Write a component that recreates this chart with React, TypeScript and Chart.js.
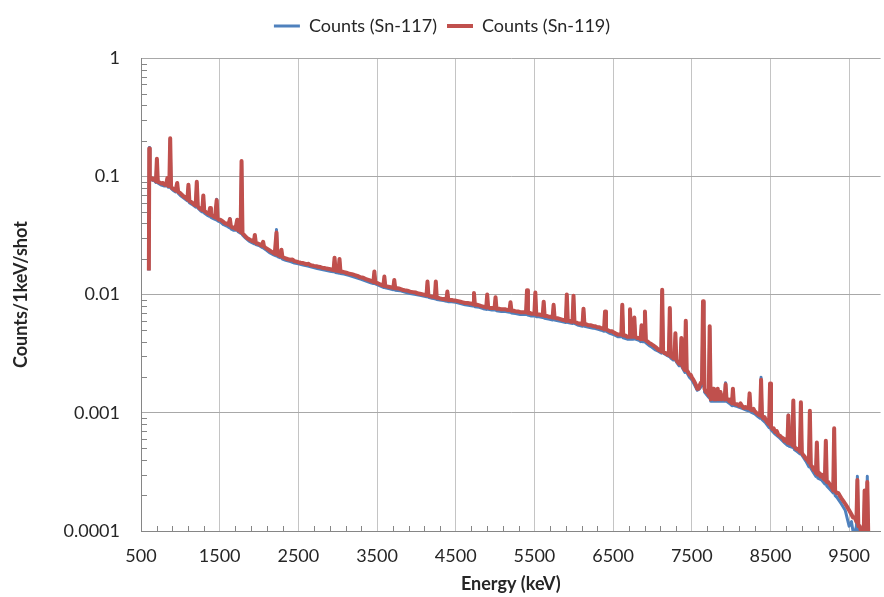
import React, { useEffect, useRef } from "react";
import { Chart, registerables } from "chart.js";

Chart.register(...registerables);

// ---- Data ----
const seriesLabels = ["Counts (Sn-117)", "Counts (Sn-119)"];
const xTickValues = [500, 1500, 2500, 3500, 4500, 5500, 6500, 7500, 8500, 9500];
const yTickValues = [0.0001, 0.001, 0.01, 0.1, 1];
const yTickLabels = ["0.0001", "0.001", "0.01", "0.1", "1"];
const xAxisTitle = "Energy (keV)";
const yAxisTitle = "Counts/1keV/shot";

// [energy keV, counts] — Sn-119 (red)
const sn119: [number, number][] = [
  [600,0.016],[605,0.172],[612,0.099],[630,0.097],[650,0.094],[670,0.096],[690,0.091],[702,0.141],[714,0.090],[735,0.089],
  [760,0.087],[780,0.088],[800,0.085],[822,0.086],[835,0.097],[847,0.083],[860,0.084],[871,0.21],[882,0.082],[900,0.079],
  [920,0.078],[940,0.076],[960,0.088],[972,0.074],[990,0.073],[1010,0.071],[1030,0.069],[1050,0.067],[1070,0.066],[1090,0.064],
  [1103,0.085],[1115,0.062],[1135,0.061],[1150,0.060],[1172,0.058],[1195,0.057],[1209,0.090],[1222,0.056],[1240,0.054],[1260,0.053],
  [1280,0.052],[1292,0.069],[1304,0.051],[1322,0.050],[1340,0.049],[1365,0.048],[1377,0.054],[1389,0.047],[1405,0.047],[1420,0.046],
  [1440,0.045],[1462,0.063],[1474,0.044],[1492,0.043],[1510,0.043],[1530,0.042],[1550,0.041],[1570,0.040],[1590,0.040],[1610,0.039],
  [1630,0.0435],[1642,0.038],[1660,0.037],[1680,0.037],[1700,0.036],[1723,0.043],[1735,0.035],[1752,0.035],[1766,0.034],[1778,0.135],
  [1790,0.033],[1810,0.032],[1830,0.031],[1850,0.030],[1870,0.0295],[1890,0.029],[1910,0.0285],[1935,0.028],[1947,0.032],[1959,0.0275],
  [1975,0.027],[1990,0.027],[2010,0.0265],[2030,0.026],[2052,0.028],[2064,0.0255],[2080,0.025],[2100,0.0245],[2120,0.024],[2140,0.0235],
  [2160,0.023],[2180,0.0226],[2200,0.0222],[2222,0.0335],[2234,0.0218],[2255,0.0214],[2273,0.0212],[2285,0.024],[2297,0.0208],[2320,0.0205],
  [2340,0.0202],[2370,0.0199],[2400,0.0197],[2425,0.0198],[2450,0.0192],[2480,0.0190],[2500,0.0188],[2530,0.0186],[2560,0.0185],[2600,0.0181],
  [2630,0.0182],[2650,0.0178],[2680,0.0176],[2700,0.0175],[2730,0.0174],[2750,0.0172],[2780,0.0171],[2800,0.0169],[2830,0.0168],[2860,0.0166],
  [2890,0.0165],[2920,0.0163],[2948,0.0161],[2960,0.0205],[2972,0.0160],[2995,0.0159],[3011,0.0158],[3023,0.0200],[3035,0.0157],[3060,0.0156],
  [3080,0.0155],[3110,0.0153],[3150,0.0150],[3180,0.0149],[3220,0.0146],[3250,0.0144],[3290,0.0140],[3325,0.0139],[3360,0.0135],[3390,0.0133],
  [3420,0.0131],[3454,0.0128],[3466,0.0157],[3478,0.0127],[3505,0.0125],[3530,0.0123],[3555,0.0121],[3581,0.0119],[3593,0.0142],[3605,0.0118],
  [3630,0.0117],[3660,0.0116],[3685,0.0115],[3707,0.0114],[3719,0.0133],[3731,0.0113],[3760,0.0113],[3790,0.0112],[3820,0.0110],[3850,0.0109],
  [3885,0.0108],[3920,0.0106],[3955,0.0105],[3994,0.0104],[4025,0.0102],[4060,0.0101],[4095,0.0100],[4129,0.0099],[4141,0.0129],[4153,0.0098],
  [4175,0.0097],[4200,0.0096],[4220,0.0096],[4235,0.0095],[4247,0.0129],[4259,0.0094],[4280,0.0094],[4300,0.0093],[4325,0.0092],[4345,0.0092],
  [4365,0.0091],[4382,0.0091],[4394,0.0106],[4406,0.0090],[4430,0.0090],[4450,0.0090],[4475,0.0089],[4500,0.0089],[4530,0.0088],[4560,0.0087],
  [4590,0.0086],[4620,0.0085],[4650,0.0085],[4680,0.0084],[4700,0.0084],[4720,0.0083],[4732,0.0103],[4744,0.0082],[4770,0.0082],[4800,0.0081],
  [4825,0.0080],[4850,0.0079],[4870,0.0079],[4888,0.0078],[4900,0.0100],[4912,0.0078],[4935,0.0077],[4960,0.0077],[4980,0.0077],[4994,0.0077],
  [5006,0.0095],[5018,0.0076],[5050,0.0076],[5080,0.0075],[5105,0.0075],[5133,0.0075],[5160,0.0074],[5184,0.0074],[5196,0.0086],[5208,0.0073],
  [5235,0.0073],[5260,0.0072],[5290,0.0072],[5320,0.0071],[5350,0.0071],[5375,0.0071],[5394,0.0071],[5406,0.0109],[5418,0.0070],[5440,0.0070],
  [5460,0.0069],[5480,0.0069],[5500,0.0069],[5512,0.0104],[5524,0.0068],[5545,0.0068],[5560,0.0068],[5585,0.0067],[5606,0.0067],[5618,0.0087],
  [5630,0.0066],[5655,0.0066],[5680,0.0065],[5705,0.0065],[5732,0.0064],[5744,0.0082],[5756,0.0064],[5780,0.0063],[5800,0.0063],[5830,0.0062],
  [5860,0.0061],[5880,0.0061],[5900,0.0060],[5912,0.0100],[5924,0.0060],[5945,0.0060],[5965,0.0059],[5985,0.0059],[5997,0.0098],[6009,0.0059],
  [6035,0.0058],[6060,0.0057],[6085,0.0057],[6112,0.0056],[6124,0.0076],[6136,0.0056],[6160,0.0056],[6190,0.0055],[6220,0.0055],[6250,0.0054],
  [6275,0.0054],[6300,0.0053],[6325,0.0053],[6350,0.0052],[6370,0.0052],[6386,0.0051],[6398,0.0072],[6410,0.0051],[6435,0.0050],[6460,0.0049],
  [6485,0.0049],[6504,0.0048],[6530,0.0047],[6560,0.0046],[6585,0.0046],[6605,0.0046],[6617,0.0082],[6629,0.0045],[6655,0.0045],[6680,0.0044],
  [6703,0.0044],[6715,0.0075],[6727,0.0044],[6745,0.0044],[6758,0.0044],[6770,0.0064],[6782,0.0044],[6805,0.0043],[6830,0.0043],[6850,0.0042],
  [6862,0.0055],[6874,0.0042],[6893,0.0042],[6905,0.0072],[6917,0.0041],[6940,0.0040],[6960,0.0039],[6990,0.0038],[7015,0.0037],[7040,0.0036],
  [7060,0.0035],[7080,0.0034],[7100,0.0034],[7112,0.0033],[7124,0.0110],[7136,0.0033],[7155,0.0032],[7170,0.0032],[7190,0.0031],[7209,0.0031],
  [7221,0.0077],[7233,0.0030],[7250,0.0030],[7265,0.0029],[7280,0.0029],[7292,0.0047],[7304,0.0028],[7320,0.0027],[7340,0.0026],[7356,0.0026],
  [7368,0.0043],[7380,0.0025],[7395,0.0024],[7412,0.0023],[7424,0.0060],[7436,0.0023],[7455,0.0022],[7470,0.0021],[7485,0.0021],[7500,0.0020],
  [7520,0.0019],[7540,0.0018],[7555,0.0017],[7570,0.0016],[7585,0.0016],[7600,0.0017],[7615,0.0018],[7630,0.0018],[7643,0.0088],[7652,0.0060],
  [7662,0.0016],[7680,0.0015],[7700,0.0015],[7716,0.0014],[7728,0.0054],[7740,0.0013],[7755,0.0014],[7770,0.0016],[7782,0.0013],[7800,0.0015],
  [7815,0.0013],[7830,0.0016],[7845,0.0013],[7865,0.0015],[7880,0.0013],[7900,0.0014],[7918,0.0013],[7930,0.00174],[7942,0.0013],[7960,0.0013],
  [7980,0.00125],[7995,0.0013],[8011,0.0012],[8023,0.0016],[8035,0.0012],[8055,0.00118],[8080,0.00118],[8100,0.00115],[8120,0.00120],[8140,0.00114],
  [8160,0.0011],[8180,0.00112],[8200,0.0011],[8223,0.00109],[8235,0.00146],[8247,0.00107],[8265,0.00105],[8285,0.00108],[8300,0.00103],[8320,0.00100],
  [8340,0.00098],[8355,0.00096],[8369,0.00095],[8381,0.0019],[8393,0.00093],[8410,0.00090],[8425,0.00092],[8440,0.00087],[8460,0.00083],[8483,0.00080],
  [8495,0.00177],[8507,0.00076],[8525,0.00073],[8540,0.00074],[8560,0.00069],[8580,0.00070],[8600,0.00065],[8620,0.00064],[8640,0.00062],[8660,0.00061],
  [8677,0.00058],[8695,0.00060],[8716,0.00056],[8728,0.00095],[8740,0.00055],[8760,0.00056],[8779,0.00053],[8791,0.00127],[8803,0.00052],[8820,0.00050],
  [8840,0.00049],[8860,0.00050],[8875,0.00047],[8887,0.00123],[8899,0.00046],[8915,0.00044],[8930,0.00043],[8950,0.00041],[8970,0.00040],[8989,0.00038],
  [9001,0.00104],[9013,0.00036],[9030,0.00035],[9050,0.00033],[9065,0.00034],[9078,0.00031],[9090,0.00056],[9102,0.00030],[9120,0.00031],[9135,0.00029],
  [9150,0.00030],[9170,0.00028],[9192,0.00027],[9204,0.00058],[9216,0.00026],[9235,0.00026],[9250,0.00025],[9270,0.00024],[9285,0.00023],[9298,0.00022],
  [9310,0.00074],[9322,0.00022],[9340,0.00021],[9360,0.00021],[9380,0.00020],[9400,0.00019],[9425,0.00018],[9450,0.00017],[9475,0.00016],[9500,0.00015],
  [9525,0.00014],[9550,0.00013],[9572,0.00013],[9593,0.00012],[9605,0.00027],[9617,0.00011],[9635,0.00011],[9650,0.00010],[9668,0.000095],[9685,0.00009],
  [9697,0.00022],[9709,0.00009],[9719,0.00009],[9731,0.00026],[9745,0.00008],[9760,0.00006],
];

// [energy keV, counts] — Sn-117 (blue)
const sn117: [number, number][] = [
  [600,0.016],[605,0.176],[612,0.096],[640,0.093],[670,0.092],[690,0.089],[702,0.138],[714,0.088],[750,0.085],[790,0.083],
  [822,0.083],[835,0.094],[847,0.081],[860,0.081],[871,0.205],[882,0.079],[910,0.076],[940,0.074],[960,0.086],[972,0.072],
  [1000,0.069],[1040,0.066],[1090,0.062],[1103,0.083],[1115,0.060],[1150,0.058],[1195,0.055],[1209,0.088],[1222,0.054],[1260,0.051],
  [1280,0.050],[1292,0.067],[1304,0.049],[1340,0.047],[1365,0.046],[1377,0.053],[1389,0.045],[1420,0.044],[1450,0.043],[1462,0.064],
  [1474,0.042],[1510,0.041],[1550,0.039],[1590,0.038],[1618,0.037],[1630,0.044],[1642,0.036],[1680,0.035],[1710,0.035],[1723,0.042],
  [1735,0.034],[1766,0.033],[1778,0.132],[1790,0.032],[1830,0.030],[1870,0.0285],[1910,0.0275],[1935,0.027],[1947,0.031],[1959,0.0265],
  [2000,0.026],[2040,0.025],[2052,0.027],[2064,0.0245],[2100,0.0236],[2140,0.0225],[2180,0.0218],[2210,0.0213],[2222,0.0355],[2234,0.0210],
  [2273,0.0205],[2285,0.0235],[2297,0.0200],[2340,0.0195],[2400,0.0190],[2450,0.0185],[2500,0.0182],[2560,0.0178],[2620,0.0174],[2680,0.0170],
  [2740,0.0166],[2800,0.0163],[2860,0.0160],[2920,0.0157],[2948,0.0156],[2960,0.0198],[2972,0.0154],[3011,0.0152],[3023,0.0193],[3035,0.0151],
  [3080,0.0149],[3150,0.0145],[3220,0.0140],[3290,0.0135],[3360,0.0130],[3420,0.0126],[3454,0.0124],[3466,0.0152],[3478,0.0123],[3530,0.0119],
  [3581,0.0115],[3593,0.0138],[3605,0.0114],[3660,0.0112],[3707,0.0110],[3719,0.0130],[3731,0.0109],[3790,0.0108],[3850,0.0105],[3920,0.0102],
  [3994,0.0100],[4060,0.0098],[4129,0.0096],[4141,0.0125],[4153,0.0095],[4200,0.0093],[4235,0.0092],[4247,0.0126],[4259,0.0091],[4300,0.0090],
  [4345,0.0089],[4382,0.0088],[4394,0.0104],[4406,0.0087],[4450,0.0087],[4500,0.0086],[4560,0.0084],[4620,0.0082],[4680,0.0081],[4720,0.0080],
  [4732,0.0100],[4744,0.0079],[4800,0.0078],[4850,0.0076],[4888,0.0075],[4900,0.0097],[4912,0.0075],[4960,0.0074],[4994,0.0074],[5006,0.0092],
  [5018,0.0073],[5080,0.0072],[5133,0.0072],[5184,0.0071],[5196,0.0084],[5208,0.0070],[5260,0.0069],[5320,0.0068],[5394,0.0068],[5406,0.0106],
  [5418,0.0067],[5460,0.0066],[5500,0.0066],[5512,0.0101],[5524,0.0065],[5560,0.0065],[5606,0.0064],[5618,0.0085],[5630,0.0063],[5680,0.0062],
  [5732,0.0061],[5744,0.0080],[5756,0.0061],[5800,0.0060],[5860,0.0059],[5900,0.0058],[5912,0.0097],[5924,0.0058],[5985,0.0057],[5997,0.0095],
  [6009,0.0057],[6060,0.0055],[6112,0.0054],[6124,0.0074],[6136,0.0054],[6190,0.0053],[6250,0.0052],[6300,0.0051],[6350,0.0050],[6386,0.0049],
  [6398,0.0070],[6410,0.0049],[6460,0.0047],[6504,0.0046],[6560,0.0044],[6605,0.0044],[6617,0.0080],[6629,0.0043],[6680,0.0042],[6703,0.0042],
  [6715,0.0073],[6727,0.0042],[6758,0.0042],[6770,0.0062],[6782,0.0042],[6830,0.0041],[6850,0.0040],[6862,0.0053],[6874,0.0040],[6893,0.0040],
  [6905,0.0070],[6917,0.0039],[6960,0.0037],[6990,0.0036],[7040,0.0034],[7080,0.0033],[7112,0.0032],[7124,0.0107],[7136,0.0032],[7170,0.0031],
  [7209,0.0030],[7221,0.0075],[7233,0.0029],[7265,0.0028],[7280,0.0028],[7292,0.0045],[7304,0.0027],[7340,0.0025],[7356,0.0025],[7368,0.0042],
  [7380,0.0024],[7412,0.0022],[7424,0.0058],[7436,0.0022],[7470,0.0020],[7500,0.0019],[7540,0.0017],[7570,0.00155],[7600,0.0016],[7630,0.0017],
  [7643,0.0086],[7652,0.0058],[7662,0.0015],[7680,0.00145],[7716,0.00135],[7728,0.0052],[7740,0.00125],[7780,0.00125],[7830,0.00125],[7880,0.00125],
  [7918,0.00125],[7930,0.0018],[7942,0.00125],[7980,0.0012],[8011,0.00115],[8023,0.00155],[8035,0.00115],[8080,0.00113],[8140,0.00109],[8200,0.00105],
  [8223,0.00104],[8235,0.00142],[8247,0.00102],[8300,0.00098],[8340,0.00093],[8369,0.00090],[8381,0.0020],[8393,0.00088],[8440,0.00082],[8483,0.00075],
  [8495,0.00175],[8507,0.00072],[8560,0.00066],[8620,0.00061],[8677,0.00056],[8716,0.00053],[8728,0.00096],[8740,0.00052],[8779,0.00051],[8791,0.00124],
  [8803,0.00049],[8840,0.00047],[8875,0.00045],[8887,0.00120],[8899,0.00044],[8950,0.00039],[8989,0.00035],[9001,0.00100],[9013,0.00034],[9050,0.00031],
  [9078,0.00029],[9090,0.00054],[9102,0.00028],[9150,0.00027],[9192,0.00025],[9204,0.00056],[9216,0.00024],[9270,0.00022],[9298,0.00021],[9310,0.00072],
  [9322,0.00020],[9352,0.00019],[9400,0.00017],[9450,0.00015],[9500,0.00011],[9530,0.00012],[9560,0.00009],[9593,0.00011],[9605,0.00029],[9617,0.0001],
  [9650,0.00009],[9685,0.00008],[9697,0.00021],[9709,0.00008],[9719,0.00008],[9731,0.00029],[9745,0.00007],[9760,0.00005],
];

const FONT = "Lato, 'Open Sans', sans-serif";
const TEXT = "#262626";
const AXIS = "#868686";

const minorTicksPlugin = {
  id: "minorTicks",
  beforeDatasetsDraw(chart: any) {
    const { ctx, chartArea, scales } = chart;
    const xs = scales.x;
    const ys = scales.y;
    ctx.save();
    ctx.strokeStyle = AXIS;
    ctx.lineWidth = 1;
    ctx.beginPath();
    for (let v = 700; v < xs.max; v += 200) {
      if ((v - 500) % 1000 === 0) continue;
      const px = Math.round(xs.getPixelForValue(v)) + 0.5;
      ctx.moveTo(px, chartArea.bottom);
      ctx.lineTo(px, chartArea.bottom - 5);
    }
    for (let d = -4; d < 0; d++) {
      for (let k = 2; k <= 9; k++) {
        const py = Math.round(ys.getPixelForValue(k * Math.pow(10, d))) + 0.5;
        ctx.moveTo(chartArea.left, py);
        ctx.lineTo(chartArea.left + 6, py);
      }
    }
    ctx.stroke();
    ctx.restore();
  },
};

export default function App() {
  const ref = useRef<HTMLCanvasElement | null>(null);

  useEffect(() => {
    if (!ref.current) return;
    const chart = new Chart(ref.current, {
      type: "line",
      data: {
        datasets: [
          {
            label: seriesLabels[0],
            data: sn117.map(([x, y]) => ({ x, y })),
            borderColor: "#4F81BD",
            backgroundColor: "#4F81BD",
            borderWidth: 3,
            borderJoinStyle: "round",
            pointRadius: 0,
            tension: 0,
            order: 2,
          },
          {
            label: seriesLabels[1],
            data: sn119.map(([x, y]) => ({ x, y })),
            borderColor: "#C0504D",
            backgroundColor: "#C0504D",
            borderWidth: 4,
            borderJoinStyle: "round",
            pointRadius: 0,
            tension: 0,
            order: 1,
          },
        ],
      },
      options: {
        animation: false,
        responsive: false,
        maintainAspectRatio: false,
        layout: { padding: { top: 7, right: 0, bottom: 0, left: 0 } },
        plugins: {
          legend: {
            position: "top",
            labels: {
              usePointStyle: true,
              pointStyle: "line",
              pointStyleWidth: 26,
              padding: 10,
              color: TEXT,
              font: { family: FONT, size: 18 },
              sort: (a: any, b: any) => a.datasetIndex - b.datasetIndex,
            },
          },
          title: {
            display: true,
            text: "",
            weight: 500,
            padding: { top: 0, bottom: 12 },
            font: { size: 1 },
          },
          tooltip: { enabled: false },
        },
        scales: {
          x: {
            type: "linear",
            min: 500,
            max: 9900,
            afterBuildTicks: (s: any) => {
              s.ticks = xTickValues.map((v) => ({ value: v }));
            },
            afterFit: (s: any) => {
              s.height = 66;
            },
            grid: { color: "#c4c4c4", drawTicks: false },
            border: { color: AXIS },
            ticks: {
              padding: 14,
              color: TEXT,
              font: { family: FONT, size: 18 },
              maxRotation: 0,
              autoSkip: false,
              callback: (v: any) => String(v),
            },
            title: {
              display: true,
              text: xAxisTitle,
              color: TEXT,
              font: { family: FONT, size: 18, weight: "bold" },
              padding: { top: 0, bottom: 2 },
            },
          },
          y: {
            type: "logarithmic",
            min: 0.0001,
            max: 1,
            afterBuildTicks: (s: any) => {
              s.ticks = yTickValues.map((v) => ({ value: v }));
            },
            afterFit: (s: any) => {
              s.width = 141;
            },
            grid: { color: "#a8a8a8", drawTicks: false },
            border: { color: AXIS },
            ticks: {
              padding: 21,
              color: TEXT,
              font: { family: FONT, size: 18 },
              autoSkip: false,
              callback: (_v: any, i: number) => yTickLabels[i],
            },
            title: {
              display: true,
              text: yAxisTitle,
              color: TEXT,
              font: { family: FONT, size: 18, weight: "bold" },
              padding: { top: 10, bottom: 0 },
            },
          },
        },
      },
      plugins: [minorTicksPlugin],
    } as any);
    return () => chart.destroy();
  }, []);

  return (
    <div style={{ position: "fixed", left: 0, top: 0, width: 884, height: 597, background: "#fff" }}>
      <canvas ref={ref} width={884} height={597} style={{ display: "block" }} />
    </div>
  );
}
